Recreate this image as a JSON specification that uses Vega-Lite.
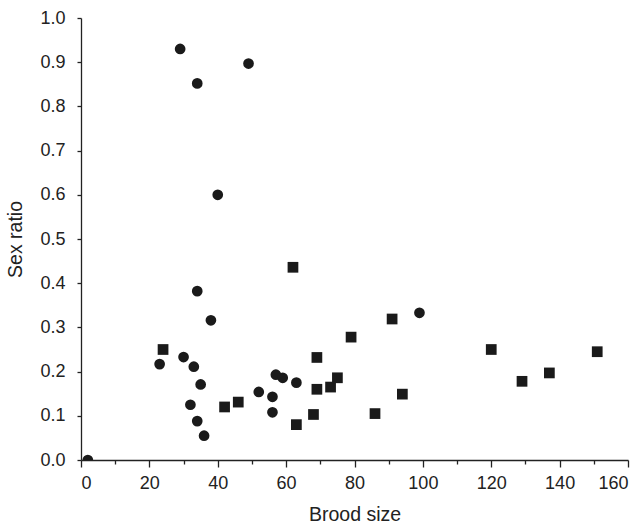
{
  "$schema": "https://vega.github.io/schema/vega-lite/v6.json",
  "autosize": {"type": "none"},
  "width": 547,
  "height": 442,
  "padding": {"left": 81, "top": 18, "right": 15, "bottom": 68},
  "background": "white",
  "config": {
    "view": {"stroke": null},
    "axis": {
      "domainColor": "#222",
      "tickColor": "#222",
      "domainWidth": 1.3,
      "tickWidth": 1.3,
      "grid": false
    }
  },
  "data": {
    "values": [
      {"brood": 2, "ratio": 0.0, "group": "a"},
      {"brood": 23, "ratio": 0.217, "group": "a"},
      {"brood": 29, "ratio": 0.93, "group": "a"},
      {"brood": 30, "ratio": 0.233, "group": "a"},
      {"brood": 32, "ratio": 0.125, "group": "a"},
      {"brood": 33, "ratio": 0.211, "group": "a"},
      {"brood": 34, "ratio": 0.852, "group": "a"},
      {"brood": 34, "ratio": 0.382, "group": "a"},
      {"brood": 34, "ratio": 0.088, "group": "a"},
      {"brood": 35, "ratio": 0.171, "group": "a"},
      {"brood": 36, "ratio": 0.055, "group": "a"},
      {"brood": 38, "ratio": 0.316, "group": "a"},
      {"brood": 40, "ratio": 0.6, "group": "a"},
      {"brood": 49, "ratio": 0.897, "group": "a"},
      {"brood": 52, "ratio": 0.154, "group": "a"},
      {"brood": 56, "ratio": 0.143, "group": "a"},
      {"brood": 56, "ratio": 0.108, "group": "a"},
      {"brood": 57, "ratio": 0.193, "group": "a"},
      {"brood": 59, "ratio": 0.186, "group": "a"},
      {"brood": 63, "ratio": 0.175, "group": "a"},
      {"brood": 99, "ratio": 0.333, "group": "a"},
      {"brood": 24, "ratio": 0.25, "group": "b"},
      {"brood": 42, "ratio": 0.12, "group": "b"},
      {"brood": 46, "ratio": 0.131, "group": "b"},
      {"brood": 62, "ratio": 0.436, "group": "b"},
      {"brood": 63, "ratio": 0.08, "group": "b"},
      {"brood": 68, "ratio": 0.103, "group": "b"},
      {"brood": 69, "ratio": 0.232, "group": "b"},
      {"brood": 69, "ratio": 0.16, "group": "b"},
      {"brood": 73, "ratio": 0.165, "group": "b"},
      {"brood": 75, "ratio": 0.186, "group": "b"},
      {"brood": 79, "ratio": 0.278, "group": "b"},
      {"brood": 86, "ratio": 0.105, "group": "b"},
      {"brood": 91, "ratio": 0.319, "group": "b"},
      {"brood": 94, "ratio": 0.149, "group": "b"},
      {"brood": 120, "ratio": 0.25, "group": "b"},
      {"brood": 129, "ratio": 0.178, "group": "b"},
      {"brood": 137, "ratio": 0.197, "group": "b"},
      {"brood": 151, "ratio": 0.245, "group": "b"}
    ]
  },
  "layer": [
    {
      "mark": {"type": "point", "filled": true, "opacity": 1, "clip": true, "color": "#1a1a1a", "size": 115},
      "encoding": {
        "x": {
          "field": "brood", "type": "quantitative",
          "scale": {"domain": [0, 160], "nice": false, "zero": false},
          "axis": {
            "orient": "bottom",
            "title": "Brood size",
            "values": [0, 20, 40, 60, 80, 100, 120, 140, 160],
            "tickSize": 7,
            "labelFont": "Liberation Sans",
            "titleFont": "Liberation Sans",
            "labelFontSize": 18,
            "titleFontSize": 19.5,
            "titleFontWeight": "normal",
            "labelColor": "#222",
            "titleColor": "#222",
            "labelPadding": 7,
            "titlePadding": 13
          }
        },
        "y": {
          "field": "ratio", "type": "quantitative",
          "scale": {"domain": [0, 1], "nice": false},
          "axis": {
            "title": "Sex ratio",
            "values": [0, 0.1, 0.2, 0.3, 0.4, 0.5, 0.6, 0.7, 0.8, 0.9, 1.0],
            "format": ".1f",
            "tickSize": 4,
            "labelFont": "Liberation Sans",
            "titleFont": "Liberation Sans",
            "labelFontSize": 18,
            "titleFontSize": 19.5,
            "titleFontWeight": "normal",
            "labelColor": "#222",
            "titleColor": "#222",
            "labelPadding": 12,
            "titlePadding": 14
          }
        },
        "shape": {
          "field": "group", "type": "nominal",
          "scale": {"domain": ["a", "b"], "range": ["circle", "square"]},
          "legend": null
        }
      }
    },
    {
      "mark": {"type": "point", "opacity": 0},
      "encoding": {
        "x": {
          "field": "brood", "type": "quantitative",
          "axis": {
            "orient": "bottom",
            "title": null,
            "values": [10, 30, 50, 70, 90, 110, 130, 150],
            "labels": false,
            "domain": false,
            "tickSize": 4
          }
        },
        "y": {"field": "ratio", "type": "quantitative", "axis": null}
      }
    }
  ],
  "resolve": {"axis": {"x": "independent", "y": "independent"}}
}
